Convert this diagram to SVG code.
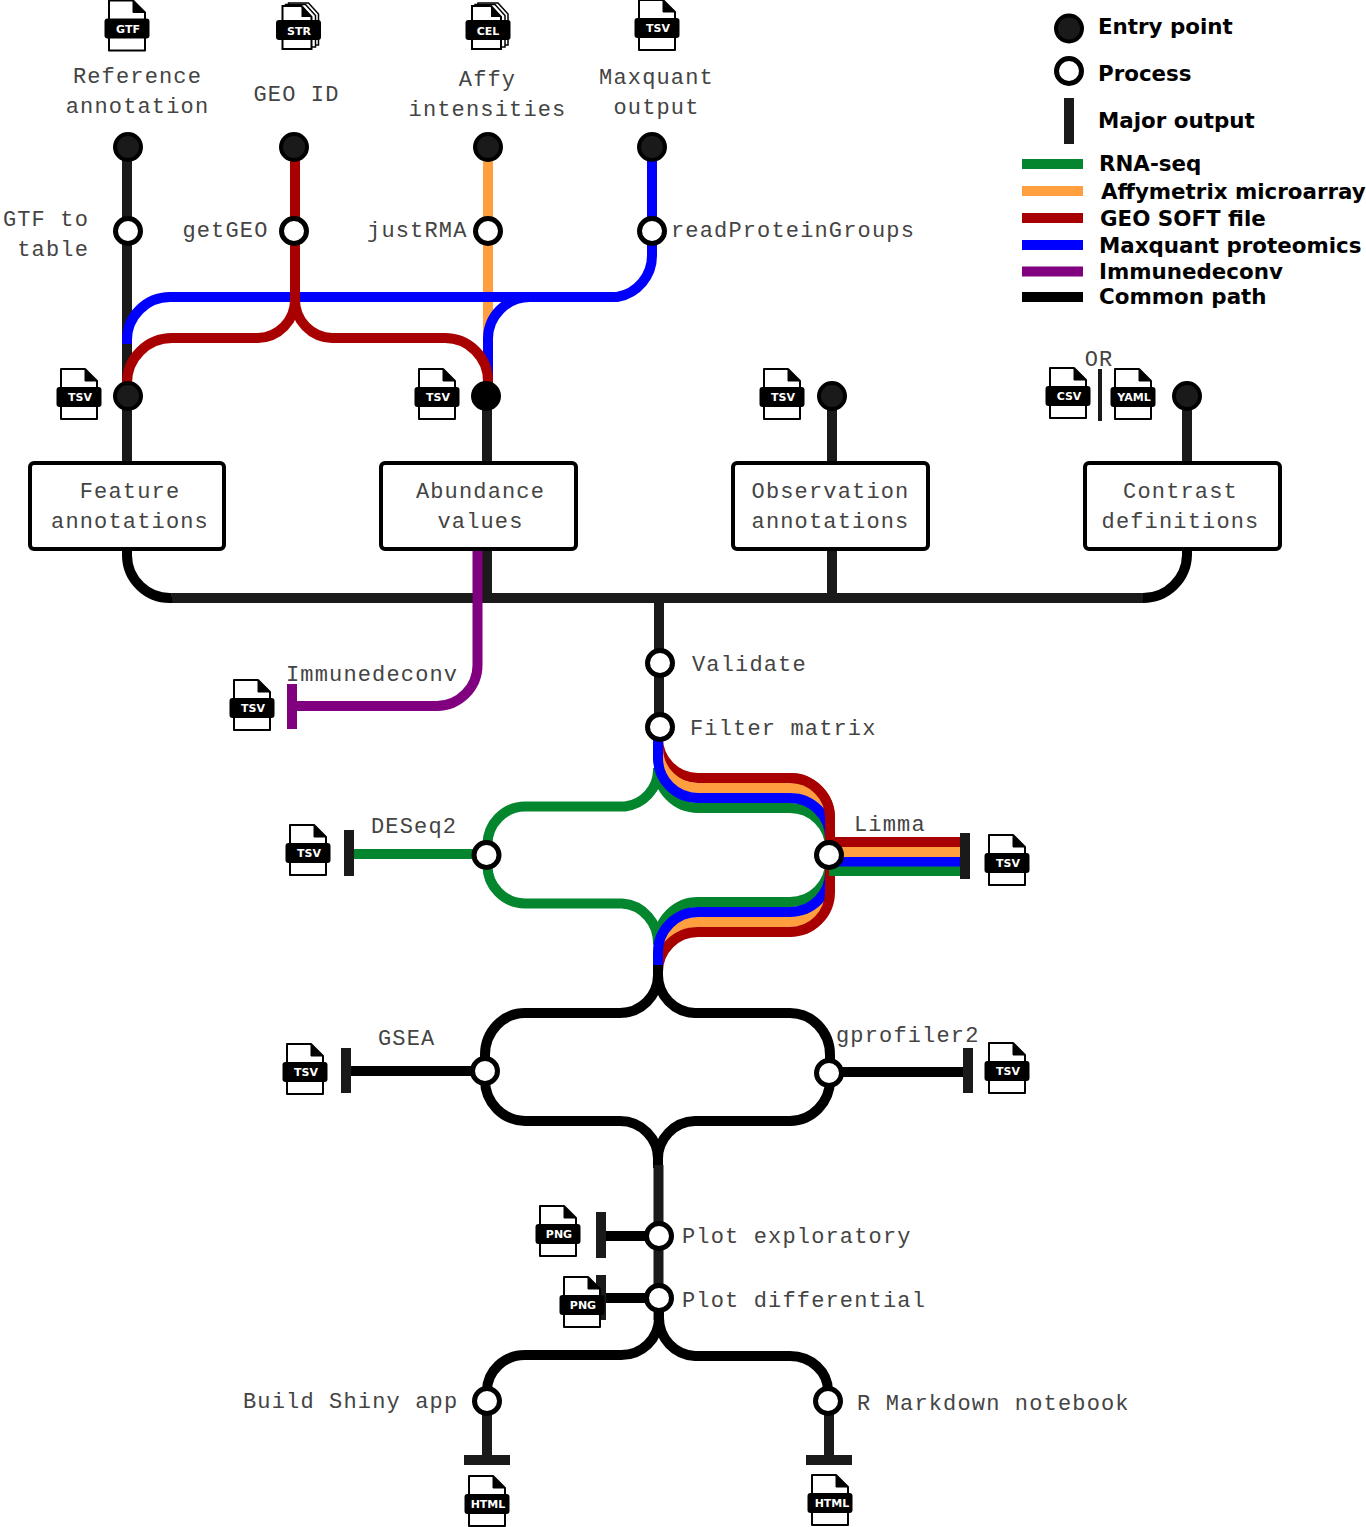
<svg xmlns="http://www.w3.org/2000/svg" width="1366" height="1527" viewBox="0 0 1366 1527">
<style>
.l{fill:none;stroke-width:10}
.k{stroke:#1a1a1a}.b{stroke:#000}.r{stroke:#a80000}.o{stroke:#ff9f3f}.u{stroke:#0000ff}.g{stroke:#04862f}.p{stroke:#800080}
.e{fill:#1a1a1a;stroke:#000;stroke-width:4}
.e2{fill:#000;stroke:#000;stroke-width:4}
.w{fill:#fff;stroke:#000;stroke-width:5}
.box{fill:#fff;stroke:#000;stroke-width:4}
.bar{fill:#1a1a1a}
text{font-family:"Liberation Mono",monospace;font-size:22px;letter-spacing:1.15px;fill:#444}
.m{text-anchor:middle}.s{text-anchor:end}
text.leg{font-family:"DejaVu Sans",sans-serif;font-weight:bold;font-size:21.400px;letter-spacing:0;fill:#000}
text.ic{font-family:"DejaVu Sans",sans-serif;font-weight:bold;font-size:11px;letter-spacing:0;fill:#fff;text-anchor:middle}
</style>
<defs>
<g id="doc">
<path d="M-18,-28H6L18,-16V22H-18Z" fill="#fff" stroke="#000" stroke-width="2" stroke-linejoin="round"/>
<path d="M6,-28V-16H18Z" fill="#000" stroke="#000" stroke-width="1" stroke-linejoin="round"/>
<rect x="-22.500" y="-10" width="45" height="20" rx="3" fill="#000"/>
</g>
<g id="stack">
<path d="M-10,-27H10L20,-16V15H-10Z" fill="#fff" stroke="#000" stroke-width="1.500"/>
<path d="M-13,-25.500H7L17,-14.500V17H-13Z" fill="#fff" stroke="#000" stroke-width="1.500"/>
<path d="M-16,-24H3L13,-13V19H-16Z" fill="#fff" stroke="#000" stroke-width="2"/>
<path d="M3,-24V-13H13Z" fill="#000"/>
<rect x="-22.500" y="-10" width="45" height="20" rx="3" fill="#000"/>
</g>
</defs>

<g id="connectors">
<path class="l k" d="M127,147V463"/>
<path class="l o" d="M488,147V335"/>
<path class="l u" d="M652,147V255A42,42 0 0 1 617,297H170A43,43 0 0 0 127,340V344"/>
<path class="l u" d="M530,297A42,42 0 0 0 488,340V385"/>
<path class="l r" d="M295,147V300A38,38 0 0 1 258,338H172A45,45 0 0 0 127,383V396"/>
<path class="l r" d="M295,300A38,38 0 0 0 332,338H445A43,43 0 0 1 488,381V396"/>
<path class="l k" d="M487,396V598"/>
<path class="l k" d="M832,396V598M1187,396V552"/>
<path class="l k" d="M172,598H1143"/>
<path class="l b" d="M127,549V555A43,43 0 0 0 172,598M1187,549V555A44,44 0 0 1 1143,598"/>
<path class="l k" d="M659,598V727"/>
<path class="l p" d="M477.500,549V665A41,41 0 0 1 437,706H292"/>

<path class="l g" d="M658,770A38,37 0 0 1 625,806.500H525A38,38 0 0 0 487.500,845V865A38,38 0 0 0 525,903.500H622A38,40 0 0 1 658,945"/>
<path class="l g" d="M658,768A40,40 0 0 0 698,808H790A40,40 0 0 1 830,848V862A40,40 0 0 1 790,902H698A40,40 0 0 0 658,942"/>
<path class="l g" d="M349,854H486"/>
<path class="l r" d="M658,738A40,40 0 0 0 698,778H790A40,40 0 0 1 830,818"/>
<path class="l o" d="M658,748A40,40 0 0 0 698,788H790A40,40 0 0 1 830,828V882A40,40 0 0 1 790,922H698A40,40 0 0 0 658,962"/>
<path class="l r" d="M790,932H698A40,40 0 0 0 658,972"/>
<path class="l u" d="M658,735V758A40,40 0 0 0 698,798H790A40,40 0 0 1 830,838V872A40,40 0 0 1 790,912H698A40,40 0 0 0 658,952V965"/>
<path class="l r" d="M790,778A40,40 0 0 1 830,818V892A40,40 0 0 1 790,932"/>
<path class="l g" d="M829,871H965"/>
<path class="l u" d="M829,861.500H965"/>
<path class="l o" d="M829,852H965"/>
<path class="l r" d="M829,842H965"/>

<path class="l b" d="M658,965V975A38,38 0 0 1 620,1013H525A40,42 0 0 0 485,1055V1080A41,41 0 0 0 525,1121H620A38,38 0 0 1 658,1160"/>
<path class="l b" d="M658,975A38,38 0 0 0 695,1013H790A40,42 0 0 1 830,1055V1080A41,41 0 0 1 790,1121H695A38,38 0 0 0 658,1160V1168"/>
<path class="l b" d="M346,1071H485M830,1072H968"/>
<path class="l k" d="M658.500,1165V1320"/>
<path class="l b" d="M601,1236H659M601,1298H659"/>
<path class="l b" d="M659,1310V1318A38,37 0 0 1 620,1355H525A38,36 0 0 0 487,1391V1401"/>
<path class="l b" d="M659,1318A38,38 0 0 0 695,1356H790A38,35 0 0 1 828,1391V1401"/>
<path class="l k" d="M487,1401V1460M829,1401V1460"/>
</g>

<g id="outputs">
<rect x="287" y="684" width="10" height="45" fill="#800080"/>
<rect class="bar" x="344" y="830" width="10" height="46"/>
<rect class="bar" x="960" y="833" width="10" height="46"/>
<rect class="bar" x="341" y="1048" width="10" height="45"/>
<rect class="bar" x="963" y="1048" width="10" height="45"/>
<rect class="bar" x="596" y="1212" width="10" height="46"/>
<rect class="bar" x="596" y="1275" width="10" height="45"/>
<rect class="bar" x="464" y="1455" width="46" height="10"/>
<rect class="bar" x="806" y="1455" width="46" height="10"/>
</g>

<g id="reference-annotation"><use href="#doc" x="127" y="28.500"/><text class="ic" x="128" y="32.500">GTF</text><text class="m" x="137.500" y="83">Reference</text><text class="m" x="137.500" y="113">annotation</text><circle class="e" cx="128" cy="147" r="13"/></g>
<g id="geo-id"><use href="#stack" x="298.500" y="30"/><text class="ic" x="299" y="35">STR</text><text class="m" x="296.500" y="101">GEO ID</text><circle class="e" cx="294" cy="147" r="13"/></g>
<g id="affy"><use href="#stack" x="488" y="30"/><text class="ic" x="488" y="35">CEL</text><text class="m" x="487.500" y="86">Affy</text><text class="m" x="487.500" y="116">intensities</text><circle class="e" cx="488" cy="147" r="13"/></g>
<g id="maxquant"><use href="#doc" x="657" y="28"/><text class="ic" x="658" y="32">TSV</text><text class="m" x="656.500" y="84">Maxquant</text><text class="m" x="656.500" y="114">output</text><circle class="e" cx="652" cy="147" r="13"/></g>

<g id="gtf-to-table"><circle class="w" cx="128" cy="231" r="12.500"/><text class="s" x="89" y="226">GTF to</text><text class="s" x="89" y="256">table</text></g>
<g id="getgeo"><circle class="w" cx="294" cy="231" r="12.500"/><text class="s" x="268.500" y="237">getGEO</text></g>
<g id="justrma"><circle class="w" cx="488" cy="231" r="12.500"/><text class="s" x="467.500" y="237">justRMA</text></g>
<g id="readproteingroups"><circle class="w" cx="652" cy="231" r="12.500"/><text x="671" y="237">readProteinGroups</text></g>

<g id="feature-entry"><use href="#doc" x="79" y="397"/><text class="ic" x="80" y="401">TSV</text><circle class="e" cx="128" cy="396" r="13"/></g>
<g id="abundance-entry"><use href="#doc" x="437" y="397"/><text class="ic" x="438" y="401">TSV</text><circle class="e2" cx="486" cy="396" r="13"/></g>
<g id="observation-entry"><use href="#doc" x="782" y="397"/><text class="ic" x="783" y="401">TSV</text><circle class="e" cx="832" cy="396" r="13"/></g>
<g id="contrast-entry"><use href="#doc" x="1068" y="396"/><text class="ic" x="1069" y="400">CSV</text><text class="m" x="1099" y="366">OR</text><rect class="bar" x="1098" y="369" width="4" height="52"/><use href="#doc" x="1133" y="397"/><text class="ic" x="1134" y="401">YAML</text><circle class="e" cx="1187" cy="396" r="13"/></g>

<g id="feature-annotations"><rect class="box" x="30" y="463" width="194" height="86" rx="4"/><text class="m" x="130" y="498">Feature</text><text class="m" x="130" y="528">annotations</text></g>
<g id="abundance-values"><rect class="box" x="381" y="463" width="195" height="86" rx="4"/><text class="m" x="480.500" y="498">Abundance</text><text class="m" x="480.500" y="528">values</text></g>
<g id="observation-annotations"><rect class="box" x="733" y="463" width="195" height="86" rx="4"/><text class="m" x="830.500" y="498">Observation</text><text class="m" x="830.500" y="528">annotations</text></g>
<g id="contrast-definitions"><rect class="box" x="1085" y="463" width="195" height="86" rx="4"/><text class="m" x="1180.500" y="498">Contrast</text><text class="m" x="1180.500" y="528">definitions</text></g>

<g id="validate"><circle class="w" cx="660" cy="663" r="12.500"/><text x="692" y="671">Validate</text></g>
<g id="filter-matrix"><circle class="w" cx="660" cy="727" r="12.500"/><text x="690" y="735">Filter matrix</text></g>
<g id="immunedeconv"><use href="#doc" x="252" y="708"/><text class="ic" x="253" y="712">TSV</text><text x="286" y="681">Immunedeconv</text></g>
<g id="deseq2"><circle class="w" cx="486.500" cy="855" r="12.500"/><use href="#doc" x="308" y="853"/><text class="ic" x="309" y="857">TSV</text><text x="371" y="833">DESeq2</text></g>
<g id="limma"><circle class="w" cx="829" cy="855" r="12.500"/><use href="#doc" x="1007" y="863"/><text class="ic" x="1008" y="867">TSV</text><text x="854" y="831">Limma</text></g>
<g id="gsea"><circle class="w" cx="485" cy="1071" r="12.500"/><use href="#doc" x="305" y="1072"/><text class="ic" x="306" y="1076">TSV</text><text x="378" y="1045">GSEA</text></g>
<g id="gprofiler2"><circle class="w" cx="829" cy="1073" r="12.500"/><use href="#doc" x="1007" y="1071"/><text class="ic" x="1008" y="1075">TSV</text><text x="836" y="1042">gprofiler2</text></g>
<g id="plot-exploratory"><circle class="w" cx="659" cy="1236" r="12.500"/><use href="#doc" x="558" y="1234"/><text class="ic" x="559" y="1238">PNG</text><text x="682" y="1243">Plot exploratory</text></g>
<g id="plot-differential"><circle class="w" cx="659" cy="1298" r="12.500"/><use href="#doc" x="582" y="1305"/><text class="ic" x="583" y="1309">PNG</text><text x="682" y="1307">Plot differential</text></g>
<g id="shiny"><circle class="w" cx="487" cy="1401" r="12.500"/><use href="#doc" x="487" y="1504"/><text class="ic" x="488" y="1508">HTML</text><text x="243" y="1408">Build Shiny app</text></g>
<g id="rmarkdown"><circle class="w" cx="828" cy="1401" r="12.500"/><use href="#doc" x="830" y="1503"/><text class="ic" x="832" y="1507">HTML</text><text x="857" y="1410">R Markdown notebook</text></g>

<g id="legend">
<circle class="e" cx="1069" cy="28.500" r="13"/><text class="leg" x="1098" y="34">Entry point</text>
<circle class="w" cx="1069" cy="71" r="12.500"/><text class="leg" x="1098" y="81">Process</text>
<rect class="bar" x="1064" y="98" width="10" height="46"/><text class="leg" x="1098" y="128">Major output</text>
<path class="l g" d="M1022,164H1083"/><text class="leg" x="1099" y="171">RNA-seq</text>
<path class="l o" d="M1022,191H1083"/><text class="leg" x="1101" y="199">Affymetrix microarray</text>
<path class="l r" d="M1022,218H1083"/><text class="leg" x="1100" y="226">GEO SOFT file</text>
<path class="l u" d="M1022,245H1083"/><text class="leg" x="1099" y="253">Maxquant proteomics</text>
<path class="l p" d="M1022,271.500H1083"/><text class="leg" x="1099" y="279">Immunedeconv</text>
<path class="l b" d="M1022,297H1083"/><text class="leg" x="1099" y="304">Common path</text>
</g>
</svg>
